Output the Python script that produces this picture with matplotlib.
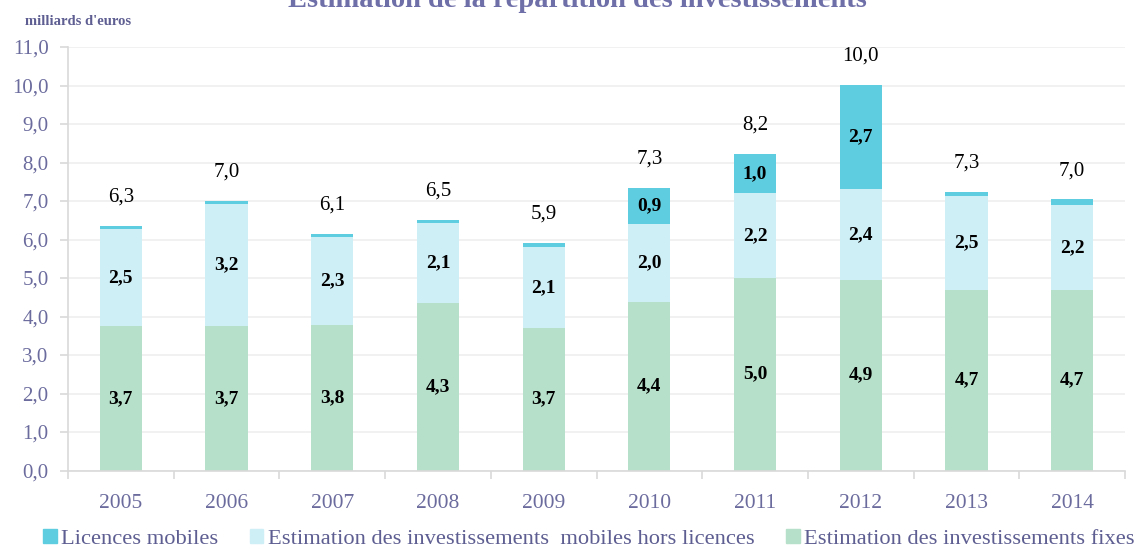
import matplotlib
matplotlib.use("Agg")
import matplotlib.pyplot as plt
from matplotlib.patches import Patch
import numpy as np

years = ["2005", "2006", "2007", "2008", "2009", "2010", "2011", "2012", "2013", "2014"]
fixes = [3.75, 3.75, 3.79, 4.34, 3.71, 4.38, 5.01, 4.95, 4.69, 4.69]
mobiles = [2.53, 3.18, 2.28, 2.10, 2.10, 2.03, 2.19, 2.36, 2.45, 2.21]
licences = [0.06, 0.07, 0.07, 0.07, 0.10, 0.94, 1.01, 2.70, 0.10, 0.14]
fixes_lbl = ["3,7", "3,7", "3,8", "4,3", "3,7", "4,4", "5,0", "4,9", "4,7", "4,7"]
mobiles_lbl = ["2,5", "3,2", "2,3", "2,1", "2,1", "2,0", "2,2", "2,4", "2,5", "2,2"]
licences_lbl = ["", "", "", "", "", "0,9", "1,0", "2,7", "", ""]
totals_lbl = ["6,3", "7,0", "6,1", "6,5", "5,9", "7,3", "8,2", "10,0", "7,3", "7,0"]
yticks = [0, 1, 2, 3, 4, 5, 6, 7, 8, 9, 10, 11]

c_lic = "#5ECDE0"
c_mob = "#CFEFF7"
c_fix = "#B6E0CA"
axis_col = "#6B6B9E"
serif = ["Liberation Serif", "DejaVu Serif"]

fig = plt.figure(figsize=(11.35, 5.5), dpi=100)
ax = fig.add_axes([68 / 1135, 1 - 470.5 / 550, (1125 - 68) / 1135, (470.5 - 47) / 550])

x = np.arange(len(years))
w = 0.40
fixes = np.array(fixes)
mobiles = np.array(mobiles)
licences = np.array(licences)
ax.bar(x, fixes, w, color=c_fix, zorder=2)
ax.bar(x, mobiles, w, bottom=fixes, color=c_mob, zorder=2)
ax.bar(x, licences, w, bottom=fixes + mobiles, color=c_lic, zorder=2)

for i in range(len(years)):
    ax.text(x[i], fixes[i] / 2, fixes_lbl[i], ha="center", va="center",
            fontsize=14, fontweight="bold", family=serif, color="black", zorder=3)
    ax.text(x[i], fixes[i] + mobiles[i] / 2, mobiles_lbl[i], ha="center", va="center",
            fontsize=14, fontweight="bold", family=serif, color="black", zorder=3)
    if licences_lbl[i]:
        ax.text(x[i], fixes[i] + mobiles[i] + licences[i] / 2, licences_lbl[i],
                ha="center", va="center", fontsize=14, fontweight="bold",
                family=serif, color="black", zorder=3)
    top = fixes[i] + mobiles[i] + licences[i]
    ax.text(x[i], top + 0.75, totals_lbl[i], ha="center", va="center",
            fontsize=15, family=serif, color="black", zorder=3)

ax.set_xlim(-0.5, len(years) - 0.5)
ax.set_ylim(0, 11)
ax.set_yticks(yticks)
ax.set_yticklabels([f"{v:.1f}".replace(".", ",") for v in yticks],
                   family=serif, fontsize=15, color=axis_col)
ax.grid(axis="y", color="#EFEFEF", linewidth=1.2, zorder=0)
ax.set_axisbelow(True)

ax.set_xticks(x)
ax.set_xticklabels(years, family=serif, fontsize=15.5, color=axis_col)
ax.set_xticks(np.arange(-0.5, len(years)), minor=True)
ax.tick_params(axis="x", which="major", length=0, pad=17)
ax.tick_params(axis="x", which="minor", length=6, color="#D9D9D9", width=1.2)
ax.tick_params(axis="y", length=6, color="#D9D9D9", width=1.2, pad=8)

for s in ["top", "right"]:
    ax.spines[s].set_visible(False)
ax.spines["left"].set_color("#D9D9D9")
ax.spines["bottom"].set_color("#D9D9D9")
ax.spines["left"].set_linewidth(1.2)
ax.spines["bottom"].set_linewidth(1.2)

fig.text(577 / 1135, 1 - 7 / 550, "Estimation de la répartition des investissements",
         ha="center", va="baseline", fontsize=20.5, fontweight="bold",
         family=serif, color="#6E6EA8")
fig.text(25 / 1135, 1 - 25 / 550, "milliards d'euros", ha="left", va="baseline",
         fontsize=10.5, fontweight="bold", family=serif, color="#5E5E92")

handles = [Patch(color=c_lic), Patch(color=c_mob), Patch(color=c_fix)]
labels = ["Licences mobiles", "Estimation des investissements  mobiles hors licences",
          "Estimation des investissements fixes"]
leg = fig.legend(handles, labels, loc="center", bbox_to_anchor=(589 / 1135, 1 - 539 / 550),
                 ncol=3, frameon=False, handlelength=0.6, handleheight=0.6,
                 handletextpad=0.2, columnspacing=1.4, borderpad=0.1,
                 prop={"family": serif, "size": 16.2})
for t in leg.get_texts():
    t.set_color("#5E5E92")

fig.savefig("out.png", dpi=100)
